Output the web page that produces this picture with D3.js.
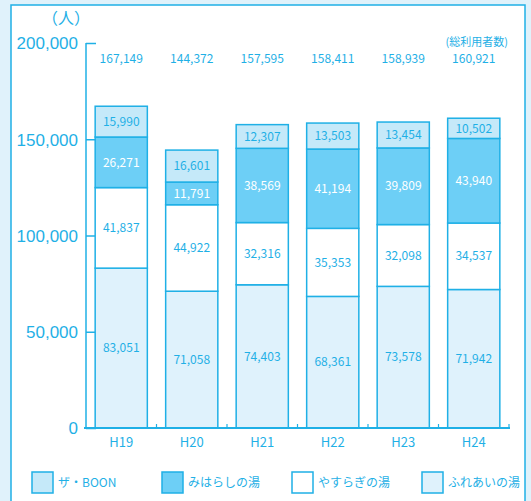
<!DOCTYPE html>
<html>
<head>
<meta charset="utf-8">
<script src="https://cdn.jsdelivr.net/npm/d3@7"></script>
<style>
  body { margin: 0; background: #e0f2fb; }
  svg { display: block; font-family: "Noto Sans CJK JP", "Noto Sans", sans-serif; }
</style>
</head>
<body>
<script>
// Data
var years = ["H19", "H20", "H21", "H22", "H23", "H24"];
var fureai = [83051, 71058, 74403, 68361, 73578, 71942];
var yasuragi = [41837, 44922, 32316, 35353, 32098, 34537];
var miharashi = [26271, 11791, 38569, 41194, 39809, 43940];
var boon = [15990, 16601, 12307, 13503, 13454, 10502];
var totals = [167149, 144372, 157595, 158411, 158939, 160921];
var seriesNames = ["ふれあいの湯", "やすらぎの湯", "みはらしの湯", "ザ・BOON"];
var yTicks = [0, 50000, 100000, 150000, 200000];

var W = 531, H = 501;
var blue = "#1fb0e6";
var fills = { "ふれあいの湯": "#dff2fc", "やすらぎの湯": "#ffffff", "みはらしの湯": "#6dcff6", "ザ・BOON": "#c5e9f9" };
var labelColor = { "ふれあいの湯": blue, "やすらぎの湯": blue, "みはらしの湯": "#ffffff", "ザ・BOON": blue };

var svg = d3.select("body").append("svg")
    .attr("width", W)
    .attr("height", H);

// white panel
svg.append("rect")
    .attr("x", 11).attr("y", 5)
    .attr("width", 514).attr("height", 510)
    .attr("fill", "#fff")
    .attr("stroke", blue)
    .attr("stroke-width", 1.5);

// build table for stack
var table = years.map(function (y, i) {
    return { year: y, "ふれあいの湯": fureai[i], "やすらぎの湯": yasuragi[i], "みはらしの湯": miharashi[i], "ザ・BOON": boon[i] };
});
var stacked = d3.stack().keys(seriesNames)(table);

var x = d3.scaleBand().domain(years).range([86, 509]).paddingInner(0.26).paddingOuter(0.13);
var y = d3.scaleLinear().domain([0, 200000]).range([428, 43]);

// y axis
var yAxis = svg.append("g")
    .attr("transform", "translate(86,0)")
    .call(d3.axisLeft(y).tickValues(yTicks).tickSize(-10).tickPadding(8)
        .tickFormat(d3.format(",")));
yAxis.select(".domain").remove();
yAxis.selectAll(".tick line").attr("stroke", blue).attr("stroke-width", 1.5);
yAxis.selectAll(".tick text").attr("fill", blue).attr("font-size", 17).attr("dy", "0.35em");
svg.append("line").attr("x1", 86).attr("x2", 86).attr("y1", y(200000)).attr("y2", y(0))
    .attr("stroke", blue).attr("stroke-width", 1.5);

// unit label
svg.append("text").attr("x", 66).attr("y", 24).attr("text-anchor", "middle")
    .attr("fill", blue).attr("font-size", 16).text("（人）");

// bars
var layer = svg.selectAll(".layer").data(stacked).enter().append("g").attr("class", "layer");
layer.selectAll("rect").data(function (d) { return d.map(function (v) { v.key = d.key; return v; }); })
    .enter().append("rect")
    .attr("x", function (d) { return x(d.data.year); })
    .attr("width", x.bandwidth())
    .attr("y", function (d) { return y(d[1]); })
    .attr("height", function (d) { return y(d[0]) - y(d[1]); })
    .attr("fill", function (d) { return fills[d.key]; })
    .attr("stroke", blue)
    .attr("stroke-width", 1.5);

layer.selectAll("text").data(function (d) { return d; })
    .enter().append("text")
    .attr("x", function (d) { return x(d.data.year) + x.bandwidth() / 2; })
    .attr("y", function (d) { return (y(d[0]) + y(d[1])) / 2; })
    .attr("dy", "0.35em")
    .attr("text-anchor", "middle")
    .attr("font-size", 12)
    .attr("fill", function (d) { return labelColor[d.key]; })
    .text(function (d) { return d3.format(",")(d[1] - d[0]); });

// x axis
svg.append("line").attr("x1", 84).attr("x2", 510).attr("y1", 428).attr("y2", 428)
    .attr("stroke", blue).attr("stroke-width", 2);
var step = x.step();
d3.range(1, 7).forEach(function (i) {
    var xx = 86 + i * step;
    svg.append("line").attr("x1", xx).attr("x2", xx).attr("y1", 428).attr("y2", 424)
        .attr("stroke", blue).attr("stroke-width", 1.2);
});
svg.selectAll(".xlab").data(years).enter().append("text")
    .attr("x", function (d) { return x(d) + x.bandwidth() / 2; })
    .attr("y", 442).attr("dy", "0.35em")
    .attr("text-anchor", "middle").attr("font-size", 13).attr("fill", blue)
    .text(function (d) { return d; });

// totals
svg.selectAll(".total").data(totals).enter().append("text")
    .attr("x", function (d, i) { return x(years[i]) + x.bandwidth() / 2; })
    .attr("y", 59).attr("dy", "0.35em")
    .attr("text-anchor", "middle").attr("font-size", 12).attr("fill", blue)
    .text(function (d) { return d3.format(",")(d); });
svg.append("text").attr("x", x("H24") + x.bandwidth() / 2 + 3).attr("y", 42).attr("dy", "0.35em")
    .attr("text-anchor", "middle").attr("font-size", 11).attr("fill", blue)
    .text("(総利用者数)");

// legend
var legendOrder = ["ザ・BOON", "みはらしの湯", "やすらぎの湯", "ふれあいの湯"];
var lg = svg.selectAll(".legend").data(legendOrder).enter().append("g")
    .attr("transform", function (d, i) { return "translate(" + (32 + i * 130) + ",472)"; });
lg.append("rect").attr("width", 21).attr("height", 21)
    .attr("fill", function (d) { return fills[d]; })
    .attr("stroke", blue).attr("stroke-width", 1.5);
lg.append("text").attr("x", 26).attr("y", 11).attr("dy", "0.35em")
    .attr("font-size", 12).attr("fill", blue)
    .text(function (d) { return d; });
</script>
</body>
</html>
